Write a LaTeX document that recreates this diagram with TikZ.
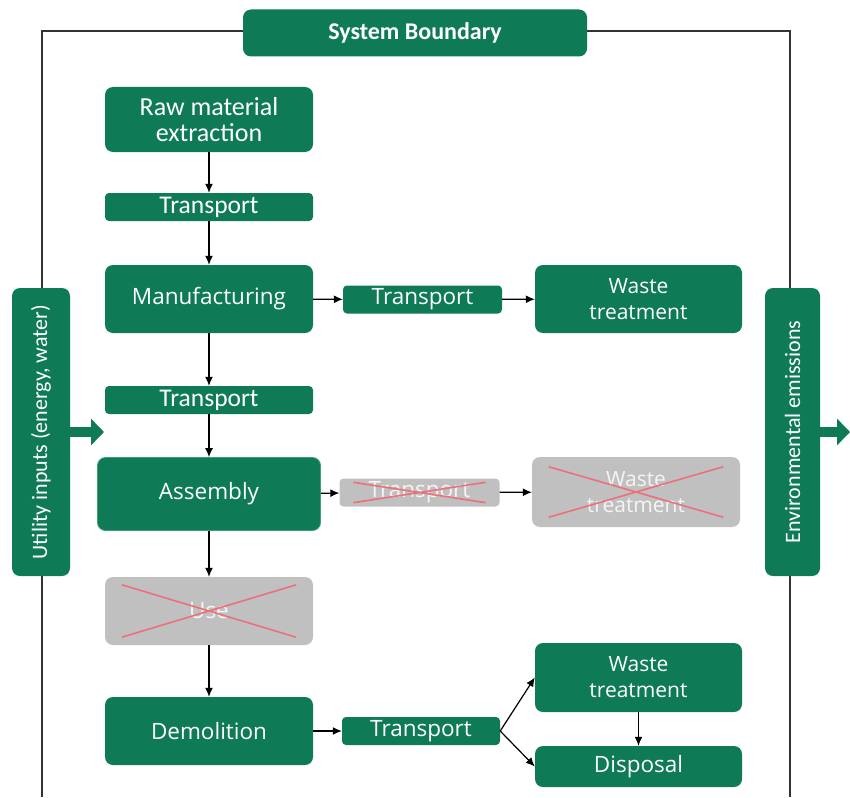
\documentclass[tikz,border=0pt]{standalone}
\usepackage{fontspec}
\setmainfont{Carlito}
\newfontfamily\opensans{Open Sans}
\usetikzlibrary{arrows.meta}
\definecolor{lcagreen}{RGB}{14,122,86}
\definecolor{lcaedge}{RGB}{60,160,110}
\definecolor{lcagray}{RGB}{192,192,192}
\definecolor{lcared}{RGB}{236,112,122}

\begin{document}
\begin{tikzpicture}[x=1pt,y=-1pt]
  % some styles
  \tikzset{
    stage/.style={
      rectangle,
      rounded corners=8pt,
      fill=lcagreen,
      text=white,
      minimum width=208pt,
      minimum height=68pt,
      inner sep=0pt,
      align=center,
      font=\fontsize{26}{26}\selectfont
    },
    os/.style={font=\opensans\fontsize{22.5}{26}\selectfont},
    oswaste/.style={font=\opensans\fontsize{21}{26}\selectfont},
    hop/.style={stage, minimum height=28pt, rounded corners=4pt},
    struck/.style={fill=lcagray, text=white!92!gray},
    side/.style={stage, rotate=90, minimum width=288pt, font=\fontsize{22}{24}\selectfont},
    flow/.style={-{Latex[length=9pt,width=8pt]}, line width=1.2pt},
    push/.style={lcagreen, line width=10pt, -{Triangle[length=13pt,width=26pt]}},
    crossline/.style={lcared, line width=1.6pt}
  }

\useasboundingbox (0,0) rectangle (850,797);

% system boundary frame
\draw[line width=1.2pt, gray!40!black] (42,797) -- (42,31) -- (790,31) -- (790,797);
\node[stage, minimum width=344pt, minimum height=47pt, font=\bfseries\fontsize{24}{24}\selectfont] (sysb) at (415,33) {System Boundary};

% life cycle stages
\node[stage, minimum height=65pt] (raw) at (209,119.5) {Raw material\\extraction};
\node[hop, font=\fontsize{25.5}{26}\selectfont] (tr1) at (209,207) {Transport};
\node[stage, os] (manu) at (209,299) {Manufacturing};
\node[hop, os, minimum width=159pt] (trm) at (422.5,299.5) {Transport};
\node[stage, oswaste, minimum width=207pt] (wtm) at (638.5,299) {Waste\\treatment};
\node[hop, font=\fontsize{25.5}{26}\selectfont] (tr2) at (209,400) {Transport};
\node[stage, os, draw=lcaedge, line width=0.8pt, minimum width=223pt, minimum height=73pt] (asm) at (209,494) {Assembly};
\node[hop, os, struck, minimum width=160pt] (tra) at (419.5,492.5) {Transport};
\node[stage, oswaste, struck, minimum height=70pt] (wta) at (636,492) {Waste\\treatment};
\node[stage, os, struck] (use) at (209,611) {Use};
\node[stage, os] (demo) at (209,731) {Demolition};
\node[hop, os, minimum width=158pt] (trd) at (421,731) {Transport};
\node[stage, oswaste, minimum width=207pt, minimum height=69pt] (wtd) at (638.5,677.5) {Waste\\treatment};
\node[stage, os, minimum width=207pt, minimum height=41pt] (disp) at (638.5,766.5) {Disposal};

% inputs and outputs
\node[side, minimum height=58pt] (util) at (41,432) {Utility inputs (energy, water)};
\node[side, minimum height=55pt] (env) at (792.5,432) {Environmental emissions};
\coordinate (uin) at (104,432);
\coordinate (eout) at (850,432);

% crossed out stages
\foreach \n/\dx/\dy in {tra/14/4, wta/17/10, use/17/8}
  \draw[crossline] ([shift={(\dx,\dy)}]\n.north west) -- ([shift={(-\dx,-\dy)}]\n.south east)
                   ([shift={(\dx,-\dy)}]\n.south west) -- ([shift={(-\dx,\dy)}]\n.north east);

% connectors
\draw[flow] (raw) -- (tr1);
\draw[flow] (tr1) -- (manu);
\draw[flow] (manu) -- (tr2);
\draw[flow] (tr2) -- (asm);
\draw[flow] (asm) -- (use);
\draw[flow] (use) -- (demo);
\draw[flow] (manu) -- (trm);
\draw[flow] (trm) -- (wtm);
\draw[flow] (asm) -- (tra);
\draw[flow] (tra) -- (wta);
\draw[flow] (demo) -- (trd);
\draw[flow] (trd.east) -- (wtd.west);
\draw[flow] (trd.east) -- (disp.west);
\draw[flow] (wtd) -- (disp);
\draw[push] (util.south) -- (uin);
\draw[push] (env.south) -- (eout);

\end{tikzpicture}
\end{document}
